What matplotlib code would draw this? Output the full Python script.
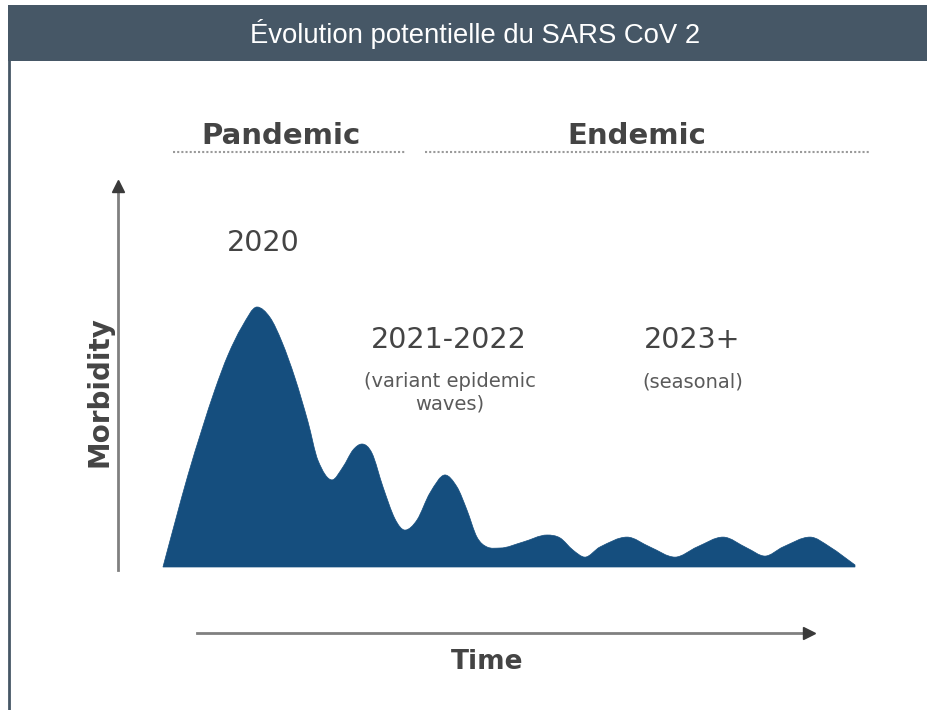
# -*- coding: utf-8 -*-
'''
Evolution potentielle du SARS CoV 2 - schematic morbidity curve
'''
import numpy as np
import matplotlib
matplotlib.use("Agg")
import matplotlib.pyplot as plt
from matplotlib.path import Path
from matplotlib.patches import PathPatch, Rectangle
from matplotlib.lines import Line2D

# figure size in pixels
W, H = 928, 710

# data (time 0..100, morbidity 0..100 = first peak)
time = [0.14, 1.88, 3.75, 5.77, 7.65, 9.52, 11.54, 13.71, 15.58, 17.32,
        19.19, 21.07, 22.51, 24.53, 26.12, 27.56, 28.86, 30.30, 31.89, 33.62,
        35.06, 36.80, 38.67, 40.84, 42.57, 44.01, 45.45, 46.90, 48.77, 52.09,
        55.56, 57.43, 59.31, 61.04, 63.20, 67.10, 70.42, 74.03, 77.20, 80.95,
        84.42, 87.01, 89.61, 93.51, 96.39, 100.0]
morbidity = [0.0, 17.3, 35.4, 53.0, 68.3, 81.5, 92.4, 100.0, 96.0, 86.5,
             72.7, 55.8, 41.0, 33.5, 38.5, 45.0, 47.3, 43.8, 30.8, 18.5,
             14.2, 18.1, 28.5, 35.4, 30.8, 21.9, 11.5, 7.7, 7.3, 9.6,
             12.3, 11.2, 6.5, 3.8, 7.7, 11.5, 7.7, 3.8, 7.7, 11.5,
             7.3, 4.2, 7.7, 11.5, 7.7, 0.8]

title = "Évolution potentielle du SARS CoV 2"
phases = ["Pandemic", "Endemic"]
periods = ["2020", "2021-2022", "2023+"]
period_notes = ["", "(variant epidemic\nwaves)", "(seasonal)"]

HEADER = "#465766"
FILL = "#154e7e"
TEXT = "#444444"


def fp(x, y):
    # pixel position -> figure fraction
    return x / W, 1 - y / H


def smooth_area(xs, ys):
    # cubic hermite (bezier) through the points, flat at peaks/troughs,
    # closed down to the baseline
    x = np.asarray(xs, float)
    y = np.asarray(ys, float)
    d = np.diff(y) / np.diff(x)
    m = np.zeros_like(x)
    m[0], m[-1] = d[0], d[-1]
    for i in range(1, len(x) - 1):
        if d[i - 1] * d[i] > 0:
            m[i] = (y[i + 1] - y[i - 1]) / (x[i + 1] - x[i - 1])
    verts = [(x[0], y[0])]
    codes = [Path.MOVETO]
    for i in range(len(x) - 1):
        h = (x[i + 1] - x[i]) / 3.0
        verts += [(x[i] + h, y[i] + m[i] * h),
                  (x[i + 1] - h, y[i + 1] - m[i + 1] * h),
                  (x[i + 1], y[i + 1])]
        codes += [Path.CURVE4] * 3
    verts += [(x[-1], 0), (x[0], 0), (x[0], 0)]
    codes += [Path.LINETO, Path.LINETO, Path.CLOSEPOLY]
    return Path(verts, codes)


fig = plt.figure(figsize=(W / 100, H / 100), dpi=100)
fig.patch.set_facecolor("white")

# header bar + left border
fig.add_artist(Rectangle(fp(8, 61), 1 - 8 / W, 56 / H, transform=fig.transFigure,
                         facecolor=HEADER, edgecolor="none"))
fig.add_artist(Line2D([9 / W, 9 / W], [0, 1 - 61 / H], transform=fig.transFigure,
                      color=HEADER, lw=2))
fig.text(*fp(475, 34), title, ha="center", va="center", color="white",
         fontsize=19.8, family="Liberation Sans")

# curve area
ax = fig.add_axes([162 / W, 1 - 567 / H, 693 / W, 260 / H])
ax.set_xlim(0, 100)
ax.set_ylim(0, 100)
ax.axis("off")
ax.add_patch(PathPatch(smooth_area(time, morbidity), facecolor=FILL,
                       edgecolor=FILL, lw=0.5, clip_on=False))

# axis arrows
fig.add_artist(Line2D([118 / W, 118 / W], [1 - 570 / H, 1 - 188 / H],
                      transform=fig.transFigure, color="#808080", lw=2))
fig.add_artist(Line2D([118 / W], [1 - 186 / H], transform=fig.transFigure,
                      marker="^", ms=9, color="#3a3a3a", lw=0))
fig.add_artist(Line2D([197 / W, 806 / W], [1 - 633 / H, 1 - 633 / H],
                      transform=fig.transFigure, color="#808080", lw=2))
fig.add_artist(Line2D([809 / W], [1 - 633 / H], transform=fig.transFigure,
                      marker=">", ms=9, color="#3a3a3a", lw=0))

# phase labels with dotted underline
for name, x0, x1, xc in zip(phases, [173, 425], [405, 870], [281, 637]):
    fig.text(*fp(xc, 136), name, ha="center", va="center", color=TEXT,
             fontsize=21, fontweight="bold")
    fig.add_artist(Line2D([x0 / W, x1 / W], [1 - 152 / H, 1 - 152 / H],
                          transform=fig.transFigure, color="#9a9a9a", lw=1.5,
                          ls=(0, (1, 1))))

# period labels
for label, note, (x, y) in zip(periods, period_notes,
                               [(263, 243), (449, 340), (692, 340)]):
    fig.text(*fp(x, y), label, ha="center", va="center", color=TEXT, fontsize=20.5)
    if note:
        fig.text(*fp(x + 1, y + 32), note, ha="center", va="top", color="#5a5a5a",
                 fontsize=14, linespacing=1.2)

fig.text(*fp(100, 392), "Morbidity", rotation=90, ha="center", va="center",
         color=TEXT, fontsize=20, fontweight="bold")
fig.text(*fp(487, 662), "Time", ha="center", va="center", color=TEXT,
         fontsize=19, fontweight="bold")

fig.savefig("out.png", dpi=100)
